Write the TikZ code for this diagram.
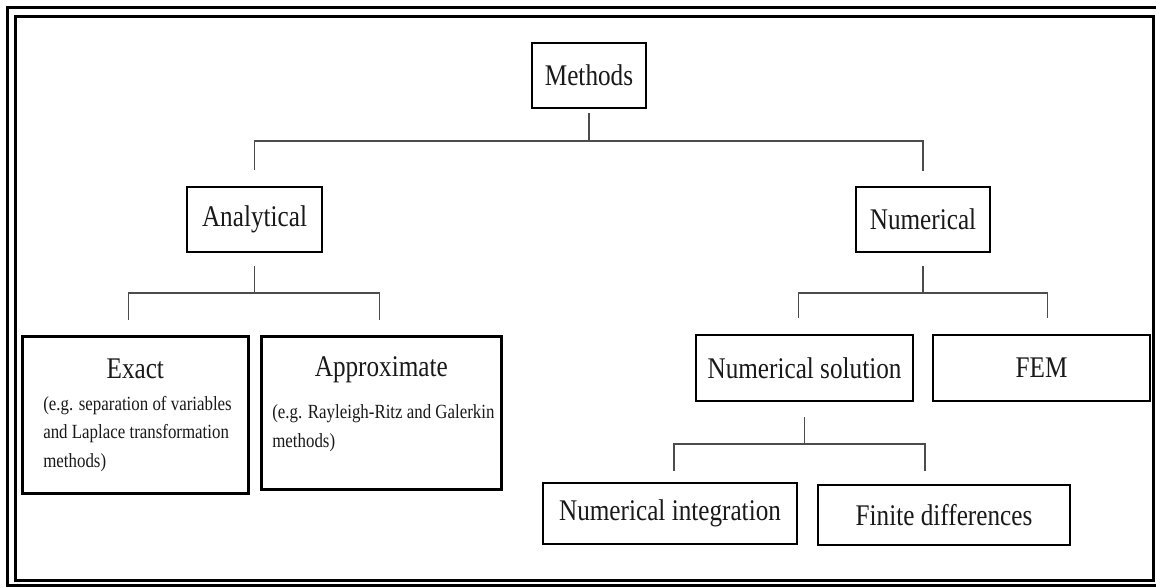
\documentclass[tikz,border=0pt]{standalone}
\usepackage{fontspec}
\setmainfont{Liberation Serif}[FakeStretch=0.84]
\newcommand{\bigfont}{\fontsize{30}{36}\selectfont}
\newcommand{\smallfont}{\fontsize{20.1}{28.5}\selectfont}

\begin{document}
\begin{tikzpicture}[x=1pt, y=-1pt,
        box/.style={draw, line width=2.6pt, inner sep=0pt, font=\bigfont, text=black!90},
        conn/.style={draw=black!70, line width=1.6pt}]
        \useasboundingbox (0,0) rectangle (1156,588);
        % double frame
        \draw[line width=3pt] (7,7.5) rectangle (1165,585);
        \draw[line width=3pt] (15,16.5) rectangle (1153,580.5);
        % boxes
        \node[box, minimum width=114, minimum height=65] (methods) at (589,75.5) {Methods};
        \node[box, minimum width=135, minimum height=65] (analytical) at (254.5,219.5) {Analytical};
        \node[box, minimum width=134, minimum height=65] (numerical) at (923,219.5) {Numerical};
        \node[box, anchor=north west] (exact) at (21,335) {\parbox[t][157pt][t]{226pt}{\vspace*{23pt}\centering Exact\par
            \vspace{3pt}\raggedright\leftskip=21pt\smallfont (e.g. separation of variables\\and Laplace transformation\\methods)\par}};
        \node[box, anchor=north west] (approx) at (260,335) {\parbox[t][153pt][t]{240pt}{\vspace*{20pt}\centering Approximate\par
            \vspace{14pt}\raggedright\leftskip=11pt\smallfont (e.g. Rayleigh-Ritz and Galerkin\\methods)\par}};
        \node[box, minimum width=217, minimum height=66] (numsol) at (804.5,368) {Numerical solution};
        \node[box, minimum width=217, minimum height=66] (fem) at (1041.5,368) {FEM};
        \node[box, minimum width=254, minimum height=61] (numint) at (670,513.5) {Numerical integration};
        \node[box, minimum width=252, minimum height=60] (findiff) at (944,515) {Finite differences};
        % connectors
        \coordinate (top) at (methods.south |- 0,141);
        \draw[conn, shorten <=4] (methods.south) -- (top);
        \draw[conn, shorten >=16] (top) -| (analytical.north);
        \draw[conn, shorten >=15] (top) -| (numerical.north);
        \coordinate (ajoin) at (analytical.south |- 0,293);
        \draw[conn, shorten <=13] (analytical.south) -- (ajoin);
        \draw[conn, shorten >=15] (ajoin) -| ([xshift=-7pt]exact.north);
        \draw[conn, shorten >=15] (ajoin) -| ([xshift=-2pt]approx.north);
        \coordinate (njoin) at (numerical.south |- 0,293);
        \draw[conn, shorten <=13] (numerical.south) -- (njoin);
        \draw[conn, shorten >=16] (njoin) -| ([xshift=-6pt]numsol.north);
        \draw[conn, shorten >=16] (njoin) -| ([xshift=6pt]fem.north);
        \coordinate (sjoin) at (numsol.south |- 0,444);
        \draw[conn, shorten <=15] (numsol.south) -- (sjoin);
        \draw[conn, shorten >=11] (sjoin) -| ([xshift=4pt]numint.north);
        \draw[conn, shorten >=13] (sjoin) -| ([xshift=-19pt]findiff.north);
\end{tikzpicture}
\end{document}
